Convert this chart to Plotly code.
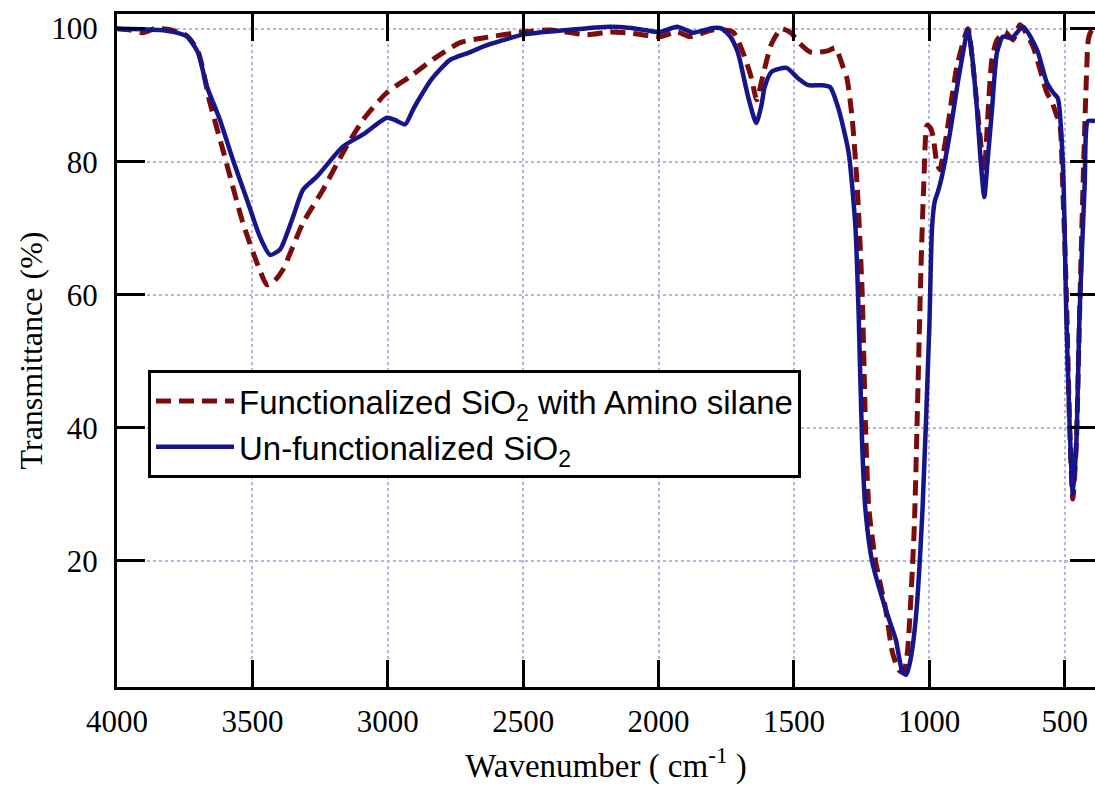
import plotly.graph_objects as go

# Wavenumber (cm^-1) and transmittance (%)
wn_func = [4000, 3950, 3904, 3860, 3800, 3741, 3700, 3657, 3609, 3535, 3483, 3446, 3420, 3387,
           3313, 3239, 3165, 3091, 3003, 2918, 2818, 2733, 2648, 2501, 2400, 2264, 2179, 2100,
           1995, 1932, 1884, 1800, 1725, 1688, 1660, 1637, 1620, 1600, 1583, 1546, 1509, 1484,
           1452, 1434, 1400, 1372, 1347, 1319, 1304, 1285, 1267, 1248, 1236, 1223, 1198, 1161,
           1136, 1112, 1095, 1081, 1056, 1043, 1031, 1020, 1008, 995, 986, 972, 961, 947, 935,
           898, 857, 840, 813, 797, 785, 769, 750, 720, 691, 665, 617, 566, 547, 530, 518, 506,
           494, 482, 470, 457, 445, 432, 422, 412, 400, 388]
t_func = [100, 99.8, 99.4, 100, 99.8, 98.9, 96.5, 88.9, 81.8, 70.8, 64.8, 61.5, 62.0, 63.8,
          70.8, 75.8, 81.4, 86.3, 90.4, 92.8, 95.8, 97.9, 98.6, 99.5, 99.8, 99.1, 99.5, 99.3,
          98.8, 99.5, 98.8, 99.8, 99.5, 96.4, 93.0, 89.3, 92.0, 95.3, 97.7, 100.0, 99.3, 98.0,
          96.8, 96.4, 96.5, 96.7, 97.1, 94.3, 92.5, 86.6, 76.8, 60.5, 40.8, 27.8, 19.9, 12.7,
          6.2, 3.6, 3.2, 6.2, 24.5, 44.1, 63.7, 77.0, 85.5, 85.0, 83.8, 79.8, 78.8, 81.5, 84.4,
          94.3, 100.0, 95.0, 84.0, 78.5, 86.0, 95.3, 98.3, 99.5, 98.3, 100.6, 97.3, 90.4, 89.0,
          87.0, 85.8, 75.0, 60.4, 40.8, 29.3, 37.6, 57.1, 76.7, 90.0, 98.5, 99.8, 100.2]

wn_unfunc = [4000, 3900, 3840, 3780, 3741, 3701, 3668, 3620, 3572, 3520, 3472, 3435, 3398, 3350,
             3313, 3261, 3165, 3091, 3003, 2970, 2936, 2907, 2892, 2840, 2770, 2700, 2648, 2501,
             2338, 2179, 2100, 1995, 1932, 1873, 1799, 1766, 1735, 1707, 1670, 1639, 1620, 1608,
             1583, 1527, 1484, 1447, 1397, 1366, 1335, 1298, 1273, 1261, 1248, 1236, 1211, 1161,
             1124, 1099, 1085, 1070, 1050, 1025, 1000, 990, 980, 968, 955, 925, 890, 857, 845,
             824, 810, 797, 785, 769, 750, 728, 695, 654, 602, 566, 543, 525, 506, 494, 482, 470,
             457, 445, 426, 414, 388]
t_unfunc = [100, 99.9, 99.8, 99.4, 98.8, 96.4, 91.3, 86.3, 80.3, 74.3, 68.7, 66.0, 66.8, 71.7,
            75.8, 77.8, 82.3, 84.1, 86.6, 86.2, 85.6, 87.8, 88.9, 92.3, 95.3, 96.4, 97.3, 99.1,
            99.8, 100.3, 100.1, 99.5, 100.3, 99.4, 100.1, 100.0, 98.8, 96.4, 89.9, 85.8, 88.5, 91.2,
            93.5, 94.1, 92.5, 91.5, 91.5, 91.2, 87.9, 81.4, 70.3, 57.2, 37.6, 27.8, 19.9, 12.7,
            8.2, 3.3, 2.9, 5.0, 11.3, 27.8, 55.0, 70.0, 74.0, 75.5, 77.5, 84.0, 93.0, 99.8, 97.0,
            88.0, 80.0, 74.7, 80.0, 87.5, 96.4, 98.8, 98.6, 100.3, 96.8, 91.9, 90.4, 89.5, 79.0,
            57.1, 40.8, 30.0, 37.6, 57.1, 76.7, 86.1, 86.1]

x_ticks = [4000, 3500, 3000, 2500, 2000, 1500, 1000, 500]
y_ticks = [20, 40, 60, 80, 100]
x_range = [4000, 388]
y_range = [1.05, 102.2]

serif = "Liberation Serif, Times New Roman, serif"
sans = "Liberation Sans, Arial, sans-serif"

fig = go.Figure()
fig.add_trace(go.Scatter(
    x=wn_func, y=t_func, mode="lines",
    name="Functionalized SiO<sub>2</sub> with Amino silane",
    line=dict(color="#7a0c0c", width=5, dash="15px,8px", shape="spline", smoothing=0.6),
))
fig.add_trace(go.Scatter(
    x=wn_unfunc, y=t_unfunc, mode="lines",
    name="Un-functionalized SiO<sub>2</sub>",
    line=dict(color="#16168a", width=4.5, shape="spline", smoothing=0.6),
))
fig.add_trace(go.Scatter(x=[None], y=[None], yaxis="y2", showlegend=False, hoverinfo="skip"))

fig.update_layout(
    width=1095, height=795,
    margin=dict(l=117, r=0, t=14, b=108),
    plot_bgcolor="white", paper_bgcolor="white",
    xaxis=dict(
        range=x_range, tickvals=x_ticks, ticks="inside", ticklen=27, tickwidth=3,
        tickcolor="black", showline=True, linewidth=3, linecolor="black", mirror="ticks",
        showgrid=True, gridcolor="#b4b4e6", griddash="dot", gridwidth=1.5, zeroline=False,
        tickfont=dict(family=serif, size=31, color="black"), ticklabelstandoff=5,
        automargin=False,
        title=dict(text="Wavenumber ( cm<sup>-1</sup> )",
                   font=dict(family=serif, size=33, color="black"), standoff=16),
    ),
    yaxis=dict(
        range=y_range, tickvals=y_ticks, ticks="inside", ticklen=28, tickwidth=3,
        tickcolor="black", showline=True, linewidth=3, linecolor="black",
        showgrid=True, gridcolor="#b4b4e6", griddash="dot", gridwidth=1.5, zeroline=False,
        tickfont=dict(family=serif, size=31, color="black"), ticklabelstandoff=10,
        automargin=False,
        title=dict(text="Transmittance (%)",
                   font=dict(family=serif, size=32, color="black"), standoff=0),
    ),
    yaxis2=dict(
        overlaying="y", side="right", anchor="x", range=y_range, tickvals=y_ticks,
        ticks="inside", ticklen=25, tickwidth=3, tickcolor="black", showline=False,
        showgrid=False, showticklabels=False, zeroline=False, automargin=False,
    ),
    legend=dict(
        x=0.0317, y=0.471, xanchor="left", yanchor="top",
        bordercolor="black", borderwidth=3, bgcolor="white", itemwidth=78,
        font=dict(family=sans, size=33, color="black"),
    ),
    showlegend=True,
)

fig.write_html("out.html", config={"displayModeBar": False},
               post_script="document.body.style.margin='0px';")
